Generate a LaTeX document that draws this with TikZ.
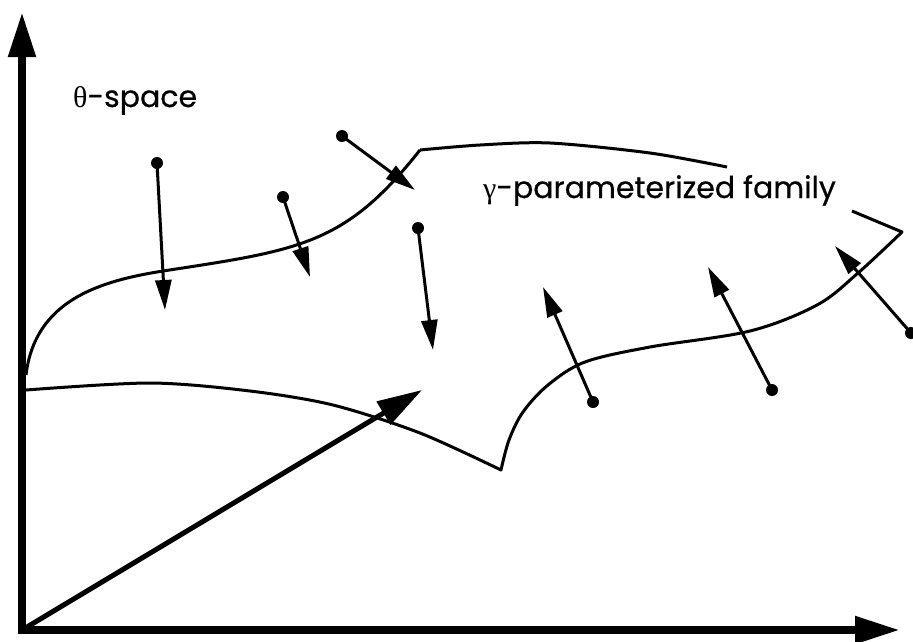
\documentclass[tikz,border=0pt]{standalone}
\usepackage{fontspec}
\usepackage{tikz}
\usetikzlibrary{positioning,arrows.meta}
\newfontfamily\labelfont[FakeBold=0.6]{Poppins}
\newfontfamily\greekfont{Liberation Serif}
\tikzset{axisline/.style={line width=8pt,line cap=rect,-{Triangle[length=45pt,width=26pt]}}}
\tikzset{outline/.style={line width=3pt,line join=round}}
\tikzset{tail/.style={circle,fill,minimum size=12pt,inner sep=0pt}}
\tikzset{force/.style={line width=3pt,shorten <=-2pt,-{Triangle[length=30pt,width=16pt]}}}
\tikzset{lbl/.style={font=\labelfont\fontsize{30}{32}\selectfont,inner sep=0pt,anchor=base west}}

\begin{document}
\begin{tikzpicture}[x=1pt,y=-1pt]
        \useasboundingbox (0,0) rectangle (913,641);

        % axes and the vector from the origin
        \coordinate (o) at (22,630);
        \coordinate (y_top) at (22,12);
        \coordinate (x_end) at (900,630);
        \coordinate (v_tip) at (422,390);
        \draw[axisline] (o) to (y_top);
        \draw[axisline] (o) to (x_end);
        \draw[axisline,line width=5pt] (o) to (v_tip);

        \node[lbl] (theta_lbl) at (73,107) {{\greekfont θ}-space};
        \node[lbl] (gamma_lbl) at (483,198) {{\greekfont γ}-parameterized family};

        % the surface
        \draw[outline] (26,375) .. controls (35,300) and (100,281) .. (163,271)
                .. controls (300,250) and (345,245) .. (420,150);
        \draw[outline] plot[smooth] coordinates {(420,150) (480,145) (550,143) (650,153) (727,167)};
        \draw[outline] (852,211) -- plot[smooth,tension=0.55] coordinates {(902,232) (858,273) (817,305) (750,331) (650,347) (585,362) (548,385) (523,412) (509,440) (501,470)}
                -- plot[smooth] coordinates {(501,470) (420,433) (333,405) (250,391) (150,383) (26,390)};

        % points and their arrows
        \node[tail] (d_1) at (157,163) {};
        \node[tail] (d_2) at (283,197) {};
        \node[tail] (d_3) at (342,136) {};
        \node[tail] (d_4) at (418,228) {};
        \node[tail] (d_5) at (593,402) {};
        \node[tail] (d_6) at (772,390) {};
        \node[tail] (d_7) at (911,333) {};
        \coordinate (t_1) at (165,310);
        \coordinate (t_2) at (310,277);
        \coordinate (t_3) at (415,190);
        \coordinate (t_4) at (433,350);
        \coordinate (t_5) at (543,287);
        \coordinate (t_6) at (708,267);
        \coordinate (t_7) at (835,246);

        \draw[force] (d_1) to (t_1);
        \draw[force] (d_2) to (t_2);
        \draw[force] (d_3) to (t_3);
        \draw[force] (d_4) to (t_4);
        \draw[force] (d_5) to (t_5);
        \draw[force] (d_6) to (t_6);
        \draw[force] (d_7) to (t_7);
    \end{tikzpicture}
\end{document}
